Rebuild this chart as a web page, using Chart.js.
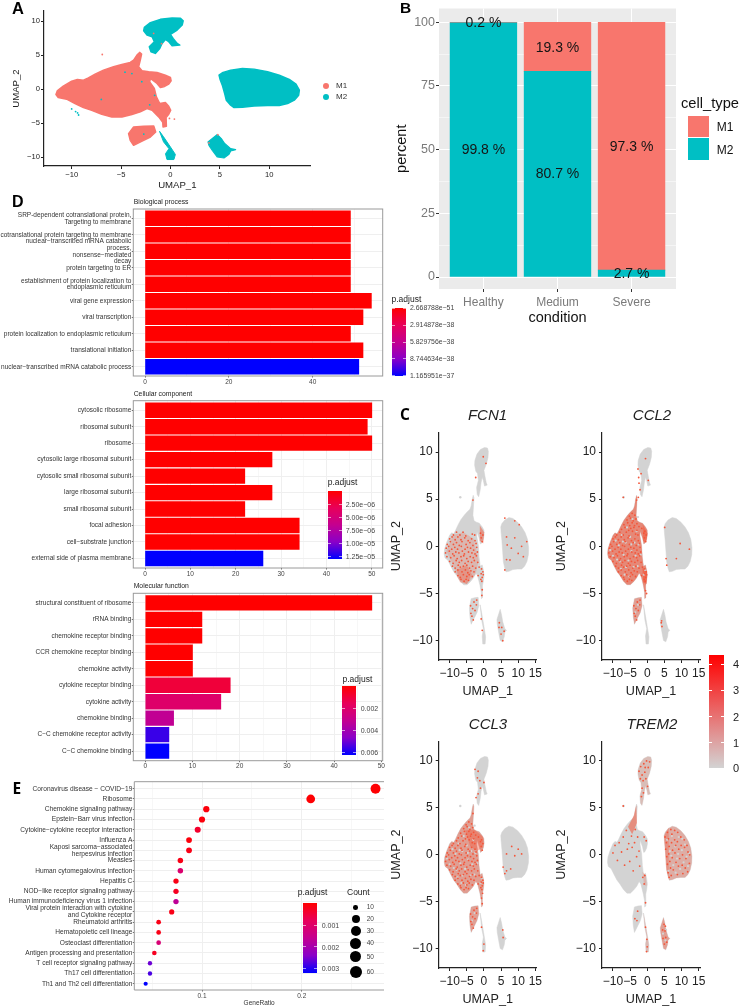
<!DOCTYPE html>
<html>
<head>
<meta charset="utf-8">
<script src="https://cdn.jsdelivr.net/npm/chart.js@4/dist/chart.umd.js"></script>
<style>
body{margin:0;background:#fff}
#page{position:relative;width:741px;height:1007px;overflow:hidden;font-family:"Liberation Sans",Arial,sans-serif}
#page canvas{position:absolute}
.t{position:absolute;white-space:nowrap;line-height:1;transform:translateY(-50%)}
.b{position:absolute}
</style>
</head>
<body>
<div id="page"></div>
<script>
// ---------- panel A / C shapes (UMAP coordinates)
const mainBody = [[-11.59,-0.79],[-11.46,-0.25],[-10.85,0.44],[-10,1.18],[-9.42,1.43],[-8.81,1.33],[-8.31,1.67],[-7.63,2.21],[-6.78,2.8],[-5.76,3.29],[-4.92,3.64],[-4.07,3.93],[-3.73,4.28],[-3.39,5.01],[-3.12,5.41],[-2.92,5.16],[-3.05,4.28],[-3.22,3.29],[-2.88,2.7],[-2.2,2.56],[-1.36,2.46],[-0.51,2.06],[0,1.72],[0.07,1.23],[-0.17,0.74],[-0.68,0.34],[-1.02,0.25],[-1.36,0.84],[-2.03,1.57],[-2.1,1.08],[-1.63,0.1],[-1.42,-1.13],[-1.08,-2.11],[-0.51,-1.97],[-0.17,-2.51],[0.03,-3.1],[-0.17,-3.69],[-0.44,-4.18],[-0.41,-5.45],[-0.75,-5.55],[-0.78,-4.86],[-1.19,-4.08],[-1.86,-3.1],[-2.37,-2.85],[-3.05,-3.34],[-3.9,-3.73],[-4.92,-4.08],[-5.93,-4.08],[-6.95,-3.69],[-7.97,-3.1],[-8.81,-2.7],[-9.66,-2.11],[-10.51,-1.47],[-11.36,-1.23]];
const lowerCluster = [[-4.24,-6.54],[-3.73,-5.55],[-2.71,-5.45],[-1.69,-5.41],[-1.49,-6.29],[-2.03,-7.03],[-2.71,-7.52],[-3.73,-8.26],[-4.07,-7.52]];
const topCluster = [[-2.71,8.6],[-2.64,9.09],[-2.03,9.78],[-1.02,10.27],[0.17,10.47],[1.02,10.42],[1.29,10.07],[1.19,9.43],[0.68,8.7],[0,8.06],[0.27,7.47],[0.68,6.73],[0.95,6.49],[0.17,6.39],[-0.17,6.98],[-0.51,7.32],[-0.85,6.73],[-1.08,6],[-1.53,5.26],[-1.97,5.5],[-2.14,6.24],[-1.63,6.98],[-1.86,7.71],[-2.37,7.96]];
const rightCluster = [[4.92,2.06],[5.25,2.41],[6.1,2.8],[7.29,3.05],[8.47,2.95],[9.83,2.56],[11.02,2.06],[12.03,1.43],[12.71,0.74],[13.05,-0.15],[12.98,-0.88],[12.54,-1.62],[11.86,-2.11],[11.02,-2.41],[9.83,-2.41],[8.47,-2.46],[7.29,-2.65],[6.44,-2.7],[6.1,-2.36],[5.66,-1.62],[5.49,-0.64],[5.25,0.59],[5.02,1.47]];
const streakCluster = [[-1.1,-6.2],[-0.7,-7],[0,-8.5],[0.5,-9.6],[0.35,-10.35],[-0.35,-10.35],[-0.5,-9.5],[-0.15,-8.75],[-0.7,-7.75]];
const bottomCluster = [[3.8,-7.76],[4.75,-6.68],[5.15,-7.27],[5.49,-8],[6.1,-8.75],[6.6,-8.9],[6.1,-9.09],[5.93,-9.58],[5.42,-10.12],[4.75,-9.98],[4.24,-8.99],[3.9,-8.26]];
const m1Strays = [[-6.9,5.1],[-1.7,8.2],[-0.9,6.7],[3.9,-7.9],[4.8,-6.7],[-0.1,-4.3],[0.4,-4.4]];
const m2Strays = [[-9.4,-3.5],[-9.6,-3.3],[-9.3,-3.8],[-4.6,2.5],[-3.9,2.3],[-7,-1.5],[-2.9,1.1],[-2.1,-2.3],[-1.6,-0.9],[-2.7,-6.6],[-10,-2.9]];
const m2Label = "M2", m1Label = "M1";
const umapXTicks = [-10,-5,0,5,10];
const umapYTicks = [-10,-5,0,5,10];

// ---------- panel B
const conditions = ["Healthy","Medium","Severe"];
const m2Percent = [99.8,80.7,2.7];
const m1Percent = [0.2,19.3,97.3];
const percentTicks = [0,25,50,75,100];
const percentMinor = [12.5,37.5,62.5,87.5];
const percentLabelsM2 = ["99.8 %","80.7 %","2.7 %"];
const percentLabelsM1 = ["0.2 %","19.3 %","97.3 %"];
const labelHeightsM2 = [50,40.2,1];
const labelHeightsM1 = [99.7,90,51];

// ---------- panel D
const bpTerms = [["SRP-dependent cotranslational protein,","Targeting to membrane"],"cotranslational protein targeting to membrane",["nuclear−transcribed mRNA catabolic","process,","nonsense−mediated","decay"],"protein targeting to ER",["establishment of protein localization to","endoplasmic reticulum"],"viral gene expression","viral transcription","protein localization to endoplasmic reticulum","translational initiation","nuclear−transcribed mRNA catabolic process"];
const bpCounts = [49,49,49,49,49,54,52,49,52,51];
const bpPadj = [2.7e-51,2.7e-51,2.7e-51,2.7e-51,2.7e-51,2.7e-51,2.7e-51,2.7e-51,2.7e-51,1.165951e-37];
const ccTerms = ["cytosolic ribosome","ribosomal subunit","ribosome","cytosolic large ribosomal subunit","cytosolic small ribosomal subunit","large ribosomal subunit","small ribosomal subunit","focal adhesion","cell−substrate junction","external side of plasma membrane"];
const ccCounts = [50,49,50,28,22,28,22,34,34,26];
const ccPadj = [1e-9,1e-9,1e-9,1e-9,1e-9,1e-9,1e-9,1e-9,1e-9,1.3e-5];
const mfTerms = ["structural constituent of ribosome","rRNA binding","chemokine receptor binding","CCR chemokine receptor binding","chemokine activity","cytokine receptor binding","cytokine activity","chemokine binding","C−C chemokine receptor activity","C−C chemokine binding"];
const mfCounts = [48,12,12,10,10,18,16,6,5,5];
const mfPadj = [0,0,0,0,0,0.001,0.002,0.0032,0.0056,0.00625];

// ---------- panel E
const keggTerms = ["Coronavirus disease − COVID−19","Ribosome","Chemokine signaling pathway","Epstein−Barr virus infection","Cytokine−cytokine receptor interaction","Influenza A",["Kaposi sarcoma−associated","herpesvirus infection"],"Measles","Human cytomegalovirus infection","Hepatitis C","NOD−like receptor signaling pathway","Human immunodeficiency virus 1 infection",["Viral protein interaction with cytokine","and Cytokine receptor"],"Rheumatoid arthritis","Hematopoietic cell lineage","Osteoclast differentiation","Antigen processing and presentation","T cell receptor signaling pathway","Th17 cell differentiation","Th1 and Th2 cell differentiation"];
const keggRatio = [0.274,0.209,0.1043,0.1,0.0957,0.087,0.087,0.0783,0.0783,0.0739,0.0739,0.0739,0.0696,0.0565,0.0565,0.0565,0.0522,0.0478,0.0478,0.0435];
const keggCount = [63,48,24,23,22,20,20,18,18,17,17,17,16,13,13,13,12,11,11,10];
const keggPadj = [0.00003,0.00003,0.0001,0.0001,0.0004,0.0001,0.0002,0.0002,0.0011,0.0002,0.0003,0.0017,0.0002,0.0002,0.0002,0.0012,0.0003,0.0026,0.0028,0.00323];

// ---------- panel C expression spots
const bodyPool = [[-4.4,3.5],[-3.6,3.3],[-5.2,3.2],[-5.9,2.8],[-4.9,3],[-4.1,2.7],[-3.3,2.9],[-6.8,2.3],[-5.7,2.5],[-5.1,2.2],[-4.4,2.5],[-3.7,2.2],[-3,2.4],[-7.5,1.8],[-6.5,2],[-5.4,1.7],[-4.8,1.9],[-3.9,2],[-3,1.7],[-2.4,2.1],[-1.6,1.9],[-0.7,1.6],[-8.9,1.2],[-8,1.5],[-7,1.2],[-6.1,1.5],[-5.3,1.1],[-4.3,1.6],[-3.4,1.3],[-2.7,1.2],[-1,1.4],[-0.3,1.2],[-10,0.8],[-9.3,1],[-8.4,0.7],[-7.6,1],[-6.7,0.7],[-5.6,0.9],[-4.6,0.6],[-3.6,0.8],[-2.6,0.6],[-0.8,0.9],[-10.7,0.2],[-9.8,0.5],[-8.9,0.2],[-8,0.4],[-7.2,0.1],[-6.4,0.5],[-5.2,0.2],[-4.1,0.4],[-3.2,0.1],[-2.3,0.3],[-0.5,0.5],[-11,-0.2],[-10.3,0],[-9.4,-0.3],[-8.5,-0.1],[-7.7,-0.3],[-6.6,0],[-5.5,-0.3],[-4.8,-0.1],[-3.9,-0.2],[-3,-0.4],[-2.1,-0.1],[-11.2,-0.7],[-10.1,-0.5],[-9.1,-0.8],[-8.2,-0.6],[-7.3,-0.7],[-6.3,-0.5],[-5.7,-0.8],[-4.5,-0.6],[-3.5,-0.7],[-2.6,-0.8],[-1.9,-0.6],[-10.8,-1.1],[-9.7,-1.2],[-8.7,-1],[-7.8,-1.3],[-6.7,-1.1],[-5.9,-1],[-5,-1.3],[-4,-1.1],[-3.1,-1.2],[-2.2,-1],[-10,-1.6],[-9,-1.8],[-8.1,-1.5],[-7.2,-1.7],[-6.5,-1.5],[-5.5,-1.8],[-4.6,-1.6],[-3.6,-1.7],[-2.8,-1.5],[-1.8,-1.7],[-9.2,-2.1],[-8.4,-2.3],[-7.5,-2],[-6.9,-2.2],[-6,-2.1],[-5,-2],[-4.2,-2.3],[-3.3,-2.1],[-2.4,-2.3],[-1.4,-2.2],[-0.7,-2.4],[-8.4,-2.7],[-7.6,-2.5],[-6.4,-2.7],[-5.4,-2.5],[-4.7,-2.8],[-3.8,-2.6],[-2.9,-2.7],[-0.8,-2.9],[-0.3,-2.7],[-7.6,-3.1],[-6.9,-3.3],[-6,-3],[-5,-3.2],[-4.3,-3],[-3.4,-3.2],[-1.7,-3.1],[-0.5,-3.3],[-0.2,-3],[-6.7,-3.5],[-5.8,-3.7],[-5.2,-3.5],[-4.5,-3.6],[-0.6,-3.7],[-0.9,-3.5],[-3.9,-6.3],[-3.5,-7.4],[-2.9,-5.9],[-2.6,-6.8],[-3.8,-7.1],[-3.3,-6.6],[-3.1,-7.8],[-2.2,-6.2],[-2.1,-5.7]];
const rightPool = [[5.2,1.9],[5.6,1.3],[5.4,0.6],[5.7,-0.2],[5.9,-1],[6.1,-1.9],[6.4,-2.4],[5.9,2.4],[6.2,1.7],[6.4,0.9],[6.3,0.1],[6.6,-0.7],[6.8,-1.4],[7,-2.2],[6.9,2.7],[7.2,2.2],[7.1,1.3],[7.4,0.5],[7.3,-0.3],[7.6,-1.6],[8,2.6],[8,1.6],[8.3,1],[8.1,0.2],[8.4,-0.8],[8.8,-2.1],[8.9,2.4],[8.8,1.4],[9.2,0.6],[9.5,-0.4],[9.1,-1.2],[9.8,1.9],[9.9,1],[10.3,0],[10.2,-1.1],[10.4,-2],[10.8,1.6],[10.9,0.8],[11.3,-0.4],[11.1,-1.4],[11.6,1],[11.9,0.3],[12.3,-0.9],[11.8,-1.8],[12.4,0],[4.5,-8],[4.9,-7.4],[5.2,-8.1],[4.6,-8.9],[5.4,-8.8],[5,-9.5],[5.7,-9.3],[5.3,-7.6]];
const topPool = [[-2.4,8.9],[-1.9,9.4],[-1.5,8.5],[-1,9.7],[-0.7,8.8],[-0.2,10],[0.3,9.3],[0.7,9.9],[-1.2,7.9],[-0.4,8.1],[-2,8.1],[-1.5,7.1],[-1.7,6.2],[-1.1,6.6],[0.1,7.3],[-0.6,9.3]];
const fcn1Spots = [[6.1,3],[9,2.7],[10.3,2.3],[6.6,1],[9,0.9],[12.5,0.5],[11,0],[8,-0.2],[6.6,-1.4],[7.6,-1.45],[6.1,-2.5],[6.8,0.15],[11.5,-1.1],[10,-0.75],[-2.4,7.3],[-0.2,9.5],[0.6,8.8],[-3.2,4.9],[-0.8,-7.7],[-0.5,-8.9],[4.5,-8.1],[5,-9.3],[5.5,-10],[5.9,-9],[4.4,-8.6],[5.2,-8.6],[-0.5,-4.6],[-0.6,-5.2]];
const ccl2Spots = [[-2.7,8.2],[-2.5,7.3],[-2.4,6.7],[-2.1,6],[-1.8,7.7],[-0.5,9.3],[0.3,7],[-2.6,5.2],[5.1,2],[5.5,-1.3],[5.7,-2],[9.6,0.3],[12.3,-0.3],[8.5,-1.3],[4.1,-8.1],[4.3,-8.5],[4.2,-7.9],[-0.5,-4.7],[-0.2,-5],[-3.1,4.9],[-7,5.2]];
const ccl3Spots = [[-2.6,9.1],[-1.9,8.2],[-1.2,7.9],[-2.3,6.1],[-1.7,6.5],[0,7.7],[-1.7,8.9],[-1,7.1],[5.6,-1.3],[6.1,-2],[6.6,-1.7],[8.1,0.9],[6.6,0.1],[9,-0.1],[10,0.6],[7.8,-1.5],[11,0.1],[5.5,-8],[5.6,-8.8],[0,-9.5],[-0.2,-10.2],[-0.7,-7.7],[-0.5,-5.2],[-0.7,-4.6],[-0.4,-4.1],[-3.2,4.4]];
const trem2Spots = [[-10,0.2],[-9.4,1],[-8.7,-0.6],[-8.2,1.3],[-7.5,0.3],[-7,1.9],[-6.6,-1.1],[-6.1,2.6],[-5.8,0.6],[-5.4,1.2],[-5.1,-0.7],[-4.6,2],[-4.4,0.8],[-4.1,-1.7],[-3.7,1.3],[-3.5,2.7],[-3.1,-0.2],[-2.8,1.9],[-2.4,0.4],[-2.2,-1.2],[-1.3,-2.4],[-0.9,-3.1],[-0.7,-2.2],[-0.5,-5.1],[-0.3,1.5],[-0.9,1.9],[-3.6,-6.8],[-3,-7],[-2.8,-6],[-0.5,-7.7],[-0.1,-9],[0,-9.8],[-0.2,-10.3],[-7,5.2]];
const bodyGaps = [[-10.8,-0.4],[-10,-1],[-9.2,0.6],[-8.8,-1.4],[-8.3,0.1],[-7.7,-2.4],[-7.4,1.2],[-6.9,-0.9],[-6.6,-3],[-6.3,0.4],[-5.9,2],[-5.5,-1.5],[-5.2,-3.2],[-5,1],[-4.6,-0.5],[-4.3,2.9],[-4,-2.2],[-3.7,0.4],[-3.4,-1],[-3.1,1.6],[-2.8,-2.1],[-2.5,0.2],[-2.7,3.1],[-1.9,-0.9],[-1,-3],[-0.6,-2.5],[-3.5,-7],[-2.7,-6.2],[-8,-1.6],[-6.2,-2.2],[-4.7,0.2],[-7.1,0.5]];
const rightGaps = [[5.8,1.6],[6.6,0.4],[7.2,2],[7.6,-1.1],[8.2,0.9],[8.7,-0.4],[9.2,1.9],[9.6,-1.5],[10.1,0.5],[10.6,-0.8],[11,1.1],[11.5,-0.2],[12.2,0.2],[11.9,-1.2],[7,-0.1],[9,0.1],[6.2,-1.7],[8.3,-1.9],[10.2,1.7],[4.6,-8.4],[5.3,-9.1],[5.5,-8]];
const exprBarTicks = ["4","3","2","1","0"];

// ---------- common colours
const M1 = "#F8766D", M2 = "#00BFC4", GREY = "#D3D3D3", SPOT = "#F4563A";
const RAMP = "#ff0000,#e8005a,#c40090,#8a00c8,#0000ff";
const rampStops = RAMP.split(",").map(h=>[1,3,5].map(i=>parseInt(h.substr(i,2),16)));

function padjColour(p, pMax){
  const t = Math.min(p/pMax,1)*(rampStops.length-1);
  const i = Math.min(Math.floor(t),rampStops.length-2), f = t-i;
  const c = rampStops[i].map((v,k)=>Math.round(v+(rampStops[i+1][k]-v)*f));
  return `rgb(${c[0]},${c[1]},${c[2]})`;
}

Chart.defaults.font.family = '"Liberation Sans", Arial, sans-serif';
Chart.defaults.animation = false;
Chart.defaults.responsive = false;
Chart.defaults.plugins.legend.display = false;
Chart.defaults.plugins.tooltip.enabled = false;

// fills each "polygon" dataset through the point positions the scales gave it
Chart.register({id:"polygonFill",beforeDatasetDraw(ch,args){
  const ds = ch.data.datasets[args.index];
  if(!ds.polygon) return;
  const g = ch.ctx;
  g.save();
  g.beginPath();
  args.meta.data.forEach((p,i)=>{ if(i) g.lineTo(p.x,p.y); else g.moveTo(p.x,p.y) });
  g.closePath();
  g.fillStyle = ds.polygon;
  g.fill();
  if(ds.edge){ g.strokeStyle = ds.polygon; g.lineWidth = ds.edge; g.lineJoin = "round"; g.stroke() }
  g.restore();
}});

const page = document.getElementById("page");

function text(x,y,str,size,extra){
  const d = document.createElement("div");
  d.className = "t";
  d.textContent = str;
  d.style.cssText = `left:${x}px;top:${y}px;font-size:${size}px;color:#222;`+(extra||"");
  page.appendChild(d);
  return d;
}
function block(x,y,w,h,bg,extra){
  const d = document.createElement("div");
  d.className = "b";
  d.style.cssText = `left:${x}px;top:${y}px;width:${w}px;height:${h}px;background:${bg};`+(extra||"");
  page.appendChild(d);
}

// box = canvas rectangle, plot = plot area rectangle, both [left,top,right,bottom] on the page
function makeChart(box,plot,cfg){
  const c = document.createElement("canvas");
  c.width = box[2]-box[0];
  c.height = box[3]-box[1];
  c.style.left = box[0]+"px";
  c.style.top = box[1]+"px";
  page.appendChild(c);
  cfg.options.layout = {padding:{top:plot[1]-box[1],right:box[2]-plot[2],left:0,bottom:0}};
  cfg.options.scales.x.afterFit = s=>{s.height = box[3]-plot[3]};
  cfg.options.scales.y.afterFit = s=>{s.width = plot[0]-box[0]};
  return new Chart(c,cfg);
}

function setTicks(vals){ return s=>{ s.ticks = vals.map(v=>({value:v})) } }
const minus = v=>String(v).replace("-","−");

function background(colour){
  return {id:"bg",beforeDraw(ch){const a=ch.chartArea;ch.ctx.fillStyle=colour;ch.ctx.fillRect(a.left,a.top,a.right-a.left,a.bottom-a.top)}};
}
const frame = {id:"frame",afterDraw(ch){const a=ch.chartArea,g=ch.ctx;g.save();g.strokeStyle="#9a9a9a";g.lineWidth=1;g.strokeRect(a.left,a.top,a.right-a.left,a.bottom-a.top);g.restore()}};
// panel E has no line on its right side
const openFrame = {id:"openFrame",afterDraw(ch){const a=ch.chartArea,g=ch.ctx;g.save();g.strokeStyle="#9a9a9a";g.lineWidth=1;g.beginPath();g.moveTo(a.right,a.top);g.lineTo(a.left,a.top);g.lineTo(a.left,a.bottom);g.lineTo(a.right,a.bottom);g.stroke();g.restore()}};

function shape(points,colour,edge){
  return {type:"scatter",data:points.map(p=>({x:p[0],y:p[1]})),showLine:false,polygon:colour,edge:edge===undefined?0.5:edge,pointRadius:0};
}
function spots(points,colour,r){
  return {type:"scatter",data:points.map(p=>({x:p[0],y:p[1]})),showLine:false,backgroundColor:colour,borderWidth:0,pointRadius:r};
}

function umapAxis(size,tickVals,min,max,title,titleSize,tickPad){
  return {type:"linear",min:min,max:max,afterBuildTicks:setTicks(tickVals),
    grid:{display:true,drawOnChartArea:false,drawTicks:true,tickLength:3,tickColor:"#222"},
    border:{display:true,color:"#222",width:1.2},
    ticks:{font:{size:size},color:"#222",padding:tickPad,autoSkip:false,maxRotation:0,callback:minus},
    title:{display:true,text:title,font:{size:titleSize},color:"#222",padding:0}};
}

// ---------- A
makeChart([11,1,326,191],[44,11,310.7,166],{
  type:"scatter",
  data:{datasets:[
    spots(m1Strays,M1,0.9),spots(m2Strays,M2,0.9),
    shape(mainBody,M1,1.5),shape(lowerCluster,M1,1.5),shape(topCluster,M2,1.5),shape(rightCluster,M2,1.5),shape(streakCluster,M2,1),shape(bottomCluster,M2,1.2)
  ]},
  options:{scales:{
    x:umapAxis(7.6,umapXTicks,-12.8,14.2,"UMAP_1",9.6,1),
    y:umapAxis(7.6,umapYTicks,-11.3,11.5,"UMAP_2",9.6,1)
  }}
});
block(322.7,83,6,6,M1,"border-radius:50%");
block(322.7,93.7,6,6,M2,"border-radius:50%");
text(336,86,m1Label,8,"color:#333");
text(336,96.8,m2Label,8,"color:#333");

// ---------- B
const barLabels = {id:"barLabels",afterDatasetsDraw(ch){
  const g = ch.ctx;
  g.save();
  g.font = '14px "Liberation Sans", Arial, sans-serif';
  g.fillStyle = "#151515"; g.textAlign = "center"; g.textBaseline = "middle";
  conditions.forEach((c,i)=>{
    const x = ch.scales.x.getPixelForValue(i+1);
    g.fillText(percentLabelsM2[i],x,ch.scales.y.getPixelForValue(labelHeightsM2[i]));
    g.fillText(percentLabelsM1[i],x,ch.scales.y.getPixelForValue(labelHeightsM1[i]));
  });
  g.restore();
}};
const pctMajor = percentTicks.concat(percentMinor);
makeChart([393,0,690,327],[439,8,676,289],{
  type:"bar",
  data:{datasets:[
    {data:m2Percent.map((v,i)=>({x:i+1,y:v})),backgroundColor:M2,barThickness:66.7},
    {data:m1Percent.map((v,i)=>({x:i+1,y:v})),backgroundColor:M1,barThickness:66.7}
  ]},
  options:{scales:{
    x:{type:"linear",stacked:true,offset:false,min:0.4,max:3.6,afterBuildTicks:setTicks([1,2,3]),
      grid:{offset:false,display:true,color:"#fff",lineWidth:1,tickColor:"#333",tickLength:3,drawTicks:true},
      border:{display:false},
      ticks:{font:{size:12},color:"#7a7a7a",padding:3,autoSkip:false,maxRotation:0,callback:v=>conditions[v-1]},
      title:{display:true,text:"condition",font:{size:14.5},color:"#111",padding:0}},
    y:{stacked:true,min:-4.7,max:105.4,afterBuildTicks:setTicks(pctMajor),
      grid:{display:true,color:"#fff",lineWidth:c=>percentMinor.includes(c.tick.value)?0.5:1,
        tickColor:c=>percentMinor.includes(c.tick.value)?"rgba(0,0,0,0)":"#333",tickLength:3,drawTicks:true},
      border:{display:false},
      ticks:{font:{size:12.5},color:"#7a7a7a",padding:1,autoSkip:false,callback:v=>percentTicks.includes(v)?v:""},
      title:{display:true,text:"percent",font:{size:14.5},color:"#111",padding:0}}
  }},
  plugins:[background("#EBEBEB"),barLabels]
});
text(681,103,"cell_type",14.7,"color:#111");
block(688,115.7,21,21,M1);
block(688,138,21,21.7,M2);
text(716.7,127,m1Label,12,"color:#111");
text(716.7,149.5,m2Label,12,"color:#111");

// ---------- D
function termChart(box,plot,terms,counts,padj,xMin,xMax,xMajor,xMinor,yMin,yMax){
  const pMax = Math.max.apply(null,padj);
  const all = xMajor.concat(xMinor);
  makeChart(box,plot,{
    type:"bar",
    data:{datasets:[{
      data:counts.map((v,i)=>({x:v,y:i+1})),
      backgroundColor:padj.map(p=>padjColour(p,pMax)),
      barThickness:14.7
    }]},
    options:{indexAxis:"y",scales:{
      x:{type:"linear",min:xMin,max:xMax,afterBuildTicks:setTicks(all),
        grid:{display:true,color:"#efefef",lineWidth:c=>xMinor.includes(c.tick.value)?0.5:1,
          tickColor:c=>xMinor.includes(c.tick.value)?"rgba(0,0,0,0)":"#666",tickLength:1.5,drawTicks:true},
        border:{display:false},
        ticks:{font:{size:6.5},color:"#444",padding:0.5,autoSkip:false,maxRotation:0,callback:v=>xMajor.includes(v)?v:""}},
      y:{type:"linear",reverse:true,offset:false,min:yMin,max:yMax,afterBuildTicks:setTicks(terms.map((t,i)=>i+1)),
        grid:{offset:false,display:true,color:"#efefef",tickColor:"#666",tickLength:1.5,drawTicks:true},
        border:{display:false},
        ticks:{font:{size:6.5,lineHeight:1.05},color:"#333",padding:0.5,autoSkip:false,callback:v=>terms[v-1]}}
    }},
    plugins:[frame]
  });
}
termChart([0,197,392,386],[133.3,209,382.7,376],bpTerms,bpCounts,bpPadj,-2.8,56.7,[0,20,40],[10,30,50],0.436,10.56);
termChart([0,389,392,578],[133.3,400.7,382.7,568],ccTerms,ccCounts,ccPadj,-2.58,52.4,[0,10,20,30,40,50],[5,15,25,35,45],0.42,10.58);
termChart([0,581,392,771],[133.3,593.3,382.7,760.7],mfTerms,mfCounts,mfPadj,-2.54,50.3,[0,10,20,30,40,50],[5,15,25,35,45],0.42,10.58);

text(133.7,202,"Biological process",6.8);
text(133.7,394,"Cellular component",6.8);
text(133.7,585.7,"Molecular function",6.8);

function colourBar(x,top,bottom,width,stops,ticks,labelX,size,title,titleX,titleY,titleSize){
  block(x,top,width,bottom-top,`linear-gradient(to bottom,${stops})`);
  ticks.forEach(t=>{
    block(x,t[0]-0.3,3,0.6,"rgba(255,255,255,.6)");
    block(x+width-3,t[0]-0.3,3,0.6,"rgba(255,255,255,.6)");
    text(labelX,t[0],t[1],size,"color:#444");
  });
  if(title) text(titleX,titleY,title,titleSize,"color:#222");
}
colourBar(391.7,308,376,14,RAMP,[[307.8,"2.668788e−51"],[325,"2.914878e−38"],[342,"5.829756e−38"],[358.5,"8.744634e−38"],[375.7,"1.165951e−37"]],410,6.9,"p.adjust",391.5,299,8.5);
colourBar(327.7,490.7,558.7,14,RAMP,[[504,"2.50e−06"],[517,"5.00e−06"],[530,"7.50e−06"],[543.3,"1.00e−05"],[556,"1.25e−05"]],345.7,7,"p.adjust",327.7,482,8.5);
colourBar(342.3,686.3,754.7,13.7,RAMP,[[708,"0.002"],[730,"0.004"],[752,"0.006"]],360.7,7,"p.adjust",342.5,679,8.5);

// ---------- E
const keggAll = [0.1,0.2], keggMinor = [0.05,0.15,0.25];
makeChart([0,770,392,1007],[134.3,781.7,384,990],{
  type:"scatter",
  data:{datasets:[{
    data:keggRatio.map((v,i)=>({x:v,y:i+1})),
    backgroundColor:keggPadj.map(p=>padjColour(p,0.00323)),
    borderWidth:0,
    pointRadius:keggCount.map(n=>0.6*Math.sqrt(n)+0.2)
  }]},
  options:{scales:{
    x:{type:"linear",min:0.0321,max:0.2825,afterBuildTicks:setTicks(keggAll.concat(keggMinor)),
      grid:{display:true,color:"#efefef",lineWidth:c=>keggMinor.includes(c.tick.value)?0.5:1,
        tickColor:c=>keggMinor.includes(c.tick.value)?"rgba(0,0,0,0)":"#666",tickLength:1.5,drawTicks:true},
      border:{display:false},
      ticks:{font:{size:6.5},color:"#444",padding:0.5,autoSkip:false,maxRotation:0,callback:v=>keggAll.includes(v)?v:""},
      title:{display:true,text:"GeneRatio",font:{size:6.5},color:"#333",padding:0}},
    y:{type:"linear",reverse:true,min:0.318,max:20.61,afterBuildTicks:setTicks(keggTerms.map((t,i)=>i+1)),
      grid:{display:true,color:"#efefef",tickColor:"#666",tickLength:1.5,drawTicks:true},
      border:{display:false},
      ticks:{font:{size:6.6,lineHeight:1.05},color:"#333",padding:0.5,autoSkip:false,callback:v=>keggTerms[v-1]}}
  }},
  plugins:[openFrame]
});
colourBar(303,903.3,973.3,14,RAMP,[[925,"0.001"],[946.7,"0.002"],[968.3,"0.003"]],321.7,7,"p.adjust",297.7,891.7,8.5);
text(347,891.7,"Count",8.5);
[[907.3,2.3,"10"],[919.3,4,"20"],[931,5,"30"],[943.3,5.5,"40"],[956.7,5.8,"50"],[971.7,6.2,"60"]].forEach(k=>{
  block(355.7-k[1],k[0]-k[1],2*k[1],2*k[1],"#000","border-radius:50%");
  text(366.7,k[0],k[2],6.5,"color:#444");
});

// ---------- C
const allShapes = [mainBody,lowerCluster,topCluster,rightCluster,streakCluster,bottomCluster];
function red(a){return `rgba(244,86,58,${a})`}

const fcn1Shade = [
  [[[-11,-0.5],[-9,1.2],[-6,1.5],[-3,0.8],[-1.5,-1.5],[-2.5,-3],[-5,-4],[-7.5,-3.5],[-9,-2]],0.22],
  [[[-8,-2.5],[-5,-2],[-3.5,-3],[-5,-4],[-7,-3.8]],0.35],
  [[[-1.2,2.2],[0.05,1.5],[-0.2,0.3],[-1.2,0.6]],0.5]
];
const ccl2Shade = [[mainBody,0.6],[[[-1.3,2.3],[0.05,1.4],[-0.2,0.4],[-1.2,0.6]],0.5],[[[-1.4,-2.2],[0,-2.7],[-0.2,-4],[-1.2,-3.8]],0.6],[lowerCluster,0.4]];
const ccl3Shade = [[mainBody,0.42],[[[-5.5,2.6],[-2.9,2.7],[-0.2,1.9],[-0.2,0.8],[-2,0.4],[-4,0.9]],0.4],[lowerCluster,0.4]];
const trem2Shade = [[rightCluster,0.3],[[[4.9,2],[6.3,2.9],[6.3,-2.6],[5.5,-1.4]],0.3],[bottomCluster,0.4],[topCluster,0.18],[streakCluster,0.2],[[[-5.6,3],[-3.9,4.2],[-3.2,5.3],[-3,3.4],[-4.4,2.2]],0.55],[[[-1.4,-1.8],[-0.4,-2.2],[-0.2,-3.3],[-0.9,-3.2]],0.25]];

function featurePlot(box,plot,title,titleX,titleY,shades,points,gaps){
  const sets = [];
  sets.push(spots(points,SPOT,0.9));
  sets.push(spots(gaps,GREY,1.1));
  shades.slice().reverse().forEach(s=>sets.push(shape(s[0],red(s[1]),0)));
  allShapes.forEach(s=>sets.push(shape(s,GREY)));
  sets.push(spots([[-6.9,5.2]],GREY,1.2));
  makeChart(box,plot,{
    type:"scatter",
    data:{datasets:sets},
    options:{scales:{
      x:umapAxis(12,[-10,-5,0,5,10,15],-13.2,15.4,"UMAP_1",12.6,3.5),
      y:umapAxis(12,umapYTicks,-12.05,12.1,"UMAP_2",12.6,3)
    }}
  });
  text(titleX,titleY,title,15,"font-style:italic;color:#222;transform:translate(-50%,-50%)");
}
const lowerBody = bodyPool.filter(p=>p[1]<1.6);
featurePlot([389,422,548,699],[438.7,432,536.7,660],"FCN1",487.5,414,fcn1Shade,lowerBody.concat(fcn1Spots),[]);
featurePlot([554,422,712,699],[602,432,700,660],"CCL2",652,414,ccl2Shade,bodyPool.concat(ccl2Spots),bodyGaps);
featurePlot([389,731,548,1007],[438.7,740.7,536.7,968],"CCL3",488,722.7,ccl3Shade,bodyPool.concat(ccl3Spots),bodyGaps);
featurePlot([554,731,712,1007],[602,740.7,700,968],"TREM2",652,722.7,trem2Shade,rightPool.concat(topPool,trem2Spots),rightGaps);

block(709,655,15,113.3,"linear-gradient(to top,#D3D3D3,#FF0000)");
[[664.3,exprBarTicks[0]],[690.3,exprBarTicks[1]],[716.7,exprBarTicks[2]],[742.7,exprBarTicks[3]]].forEach(t=>{
  block(709,t[0]-0.4,3,0.8,"#fff");
  block(721,t[0]-0.4,3,0.8,"#fff");
  text(733,t[0],t[1],11,"color:#222");
});
text(733,768,exprBarTicks[4],11,"color:#222");

// panel letters
text(12,8,"A",16.5,"font-weight:bold;color:#000");
text(400,8,"B",15.5,"font-weight:bold;color:#000");
text(400,415,"C",15.5,'font-weight:bold;color:#000;font-family:"Open Sans"');
text(12,202,"D",16,"font-weight:bold;color:#000");
text(12.5,789,"E",15.5,'font-weight:bold;color:#000;font-family:"Open Sans"');
</script>
</body>
</html>
